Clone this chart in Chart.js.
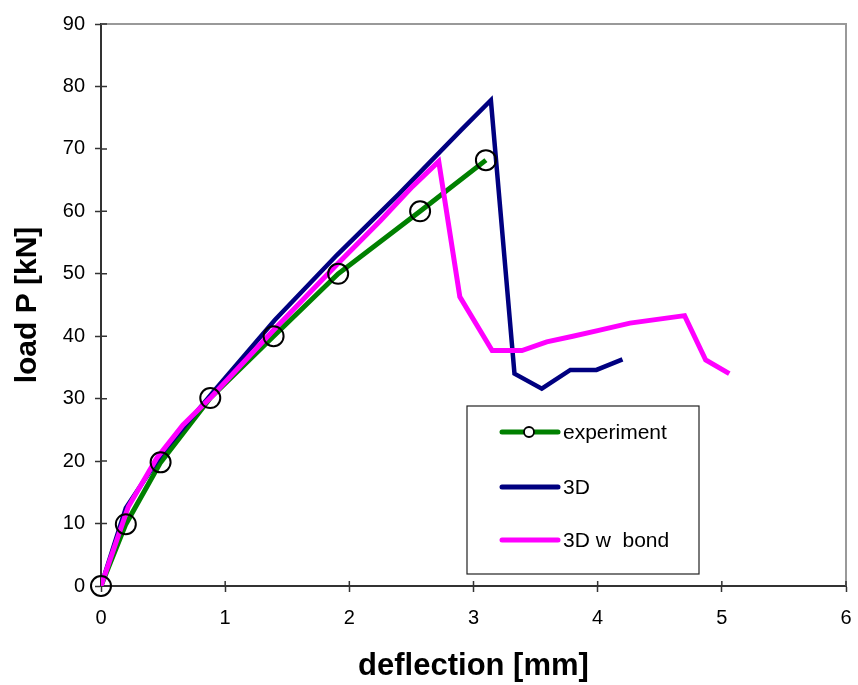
<!DOCTYPE html>
<html>
<head>
<meta charset="utf-8">
<script src="https://cdn.jsdelivr.net/npm/chart.js@4"></script>
<style>
  html, body { margin: 0; padding: 0; background: #fff; overflow: hidden; }
  #wrap { width: 858px; height: 685px; }
  #chart { display: block; }
</style>
</head>
<body>
<div id="wrap"><canvas id="chart" width="858" height="685"></canvas></div>
<script>
// experiment
const expX = [0, 0.2, 0.48, 0.88, 1.39, 1.91, 2.57, 3.1];
const expY = [0, 9.9, 19.8, 30.1, 40, 50, 60, 68.2];
// 3D
const d3X = [0, 0.2, 0.5, 0.9, 1.4, 1.9, 2.4, 2.9, 3.14, 3.33, 3.55, 3.78, 3.99, 4.2];
const d3Y = [0, 12.5, 21.5, 31, 42.6, 53, 62.8, 73, 77.8, 34.0, 31.6, 34.6, 34.6, 36.3];
// 3D w bond
const bondX = [0, 0.22, 0.45, 0.66, 0.89, 1.4, 1.9, 2.25, 2.51, 2.72, 2.89, 3.15, 3.39, 3.59, 3.8, 4.0, 4.26, 4.7, 4.87, 5.06];
const bondY = [0, 12.7, 20.5, 25.8, 30.3, 41.2, 51.5, 58.5, 64, 68, 46.3, 37.7, 37.7, 39.1, 40, 40.9, 42.1, 43.3, 36.2, 34];

const xTicks = [0, 1, 2, 3, 4, 5, 6];
const yTicks = [0, 10, 20, 30, 40, 50, 60, 70, 80, 90];

const legendItems = ['experiment', '3D', '3D w  bond'];

function pts(xs, ys) {
    return xs.map((x, i) => ({ x: x, y: ys[i] }));
}

// gray frame + inner tick marks
const framePlugin = {
    id: 'frame',
    beforeDatasetsDraw(chart) {
        const { ctx, chartArea: a } = chart;
        ctx.save();
        ctx.strokeStyle = '#999';
        ctx.lineWidth = 2;
        ctx.beginPath();
        ctx.moveTo(a.left, a.top);
        ctx.lineTo(a.right, a.top);
        ctx.lineTo(a.right, a.bottom);
        ctx.stroke();
        ctx.strokeStyle = '#333';
        ctx.lineWidth = 1.5;
        ctx.beginPath();
        chart.scales.x.ticks.forEach(t => {
            const px = chart.scales.x.getPixelForValue(t.value);
            ctx.moveTo(px, a.bottom);
            ctx.lineTo(px, a.bottom - 5);
        });
        chart.scales.y.ticks.forEach(t => {
            const py = chart.scales.y.getPixelForValue(t.value);
            ctx.moveTo(a.left, py);
            ctx.lineTo(a.left + 6, py);
        });
        ctx.stroke();
        ctx.restore();
    }
};

// boxed legend inside the plot
const boxLegend = {
    id: 'boxLegend',
    afterDraw(chart) {
        const ctx = chart.ctx;
        const x = 467, y = 406, w = 232, h = 168;
        ctx.save();
        ctx.fillStyle = '#fff';
        ctx.fillRect(x, y, w, h);
        ctx.strokeStyle = '#222';
        ctx.lineWidth = 1.2;
        ctx.strokeRect(x, y, w, h);
        const rows = [432, 487, 540];
        const sets = [0, 1, 2];
        ctx.font = '21px "Liberation Sans", Arial, sans-serif';
        ctx.textBaseline = 'middle';
        sets.forEach((di, i) => {
            const ds = chart.data.datasets[di];
            ctx.strokeStyle = ds.borderColor;
            ctx.lineWidth = 5;
            ctx.lineCap = 'round';
            ctx.beginPath();
            ctx.moveTo(502, rows[i]);
            ctx.lineTo(558, rows[i]);
            ctx.stroke();
            if (di === 0) {
                ctx.fillStyle = '#fff';
                ctx.strokeStyle = '#000';
                ctx.lineWidth = 1.8;
                ctx.beginPath();
                ctx.arc(529, rows[i], 5, 0, Math.PI * 2);
                ctx.fill();
                ctx.stroke();
            }
            ctx.fillStyle = '#000';
            ctx.fillText(legendItems[i], 563, rows[i] + 1);
        });
        ctx.restore();
    }
};

new Chart(document.getElementById('chart'), {
    type: 'scatter',
    data: {
        datasets: [
            {
                label: legendItems[0],
                data: pts(expX, expY),
                showLine: true,
                borderColor: '#008000',
                borderWidth: 5,
                pointRadius: 0,
                order: 4
            },
            {
                label: legendItems[1],
                data: pts(d3X, d3Y),
                showLine: true,
                borderColor: '#000080',
                borderWidth: 4.5,
                pointRadius: 0,
                order: 3
            },
            {
                label: legendItems[2],
                data: pts(bondX, bondY),
                showLine: true,
                borderColor: '#ff00ff',
                borderWidth: 5,
                pointRadius: 0,
                order: 2
            },
            {
                label: 'markers',
                data: pts(expX, expY),
                showLine: false,
                clip: false,
                pointRadius: 10,
                pointBorderWidth: 2,
                pointBorderColor: '#000',
                pointBackgroundColor: 'rgba(0,0,0,0)',
                order: 1
            }
        ]
    },
    plugins: [framePlugin, boxLegend],
    options: {
        responsive: false,
        animation: false,
        layout: { padding: { left: 0, top: 24, right: 2, bottom: 0 } },
        plugins: {
            legend: { display: false },
            tooltip: { enabled: false }
        },
        scales: {
            x: {
                type: 'linear',
                min: 0,
                max: 6,
                afterBuildTicks: axis => { axis.ticks = xTicks.map(v => ({ value: v })); },
                afterFit: axis => {
                    axis.height = 99;
                    // ticks.padding is added to side padding; keep the plot wide
                    axis.paddingLeft = 0;
                    axis.paddingRight = 2;
                },
                grid: { drawOnChartArea: false, color: '#333', tickLength: 6, tickWidth: 1.5 },
                border: { color: '#333', width: 2 },
                ticks: {
                    color: '#000',
                    padding: 14,
                    font: { family: '"Liberation Sans", Arial, sans-serif', size: 20 }
                },
                title: {
                    display: true,
                    text: 'deflection [mm]',
                    color: '#000',
                    padding: { top: 8, bottom: 0 },
                    font: { family: '"Liberation Sans", Arial, sans-serif', size: 31, weight: 'bold' }
                }
            },
            y: {
                type: 'linear',
                min: 0,
                max: 90,
                afterBuildTicks: axis => { axis.ticks = yTicks.map(v => ({ value: v })); },
                afterFit: axis => { axis.width = 101; },
                grid: { drawOnChartArea: false, color: '#333', tickLength: 6, tickWidth: 1.5 },
                border: { color: '#333', width: 2 },
                ticks: {
                    color: '#000',
                    padding: 10,
                    font: { family: '"Liberation Sans", Arial, sans-serif', size: 20 }
                },
                title: {
                    display: true,
                    text: 'load P [kN]',
                    color: '#000',
                    padding: { top: 10, bottom: 0 },
                    font: { family: '"Liberation Sans", Arial, sans-serif', size: 30, weight: 'bold' }
                }
            }
        }
    }
});
</script>
</body>
</html>
